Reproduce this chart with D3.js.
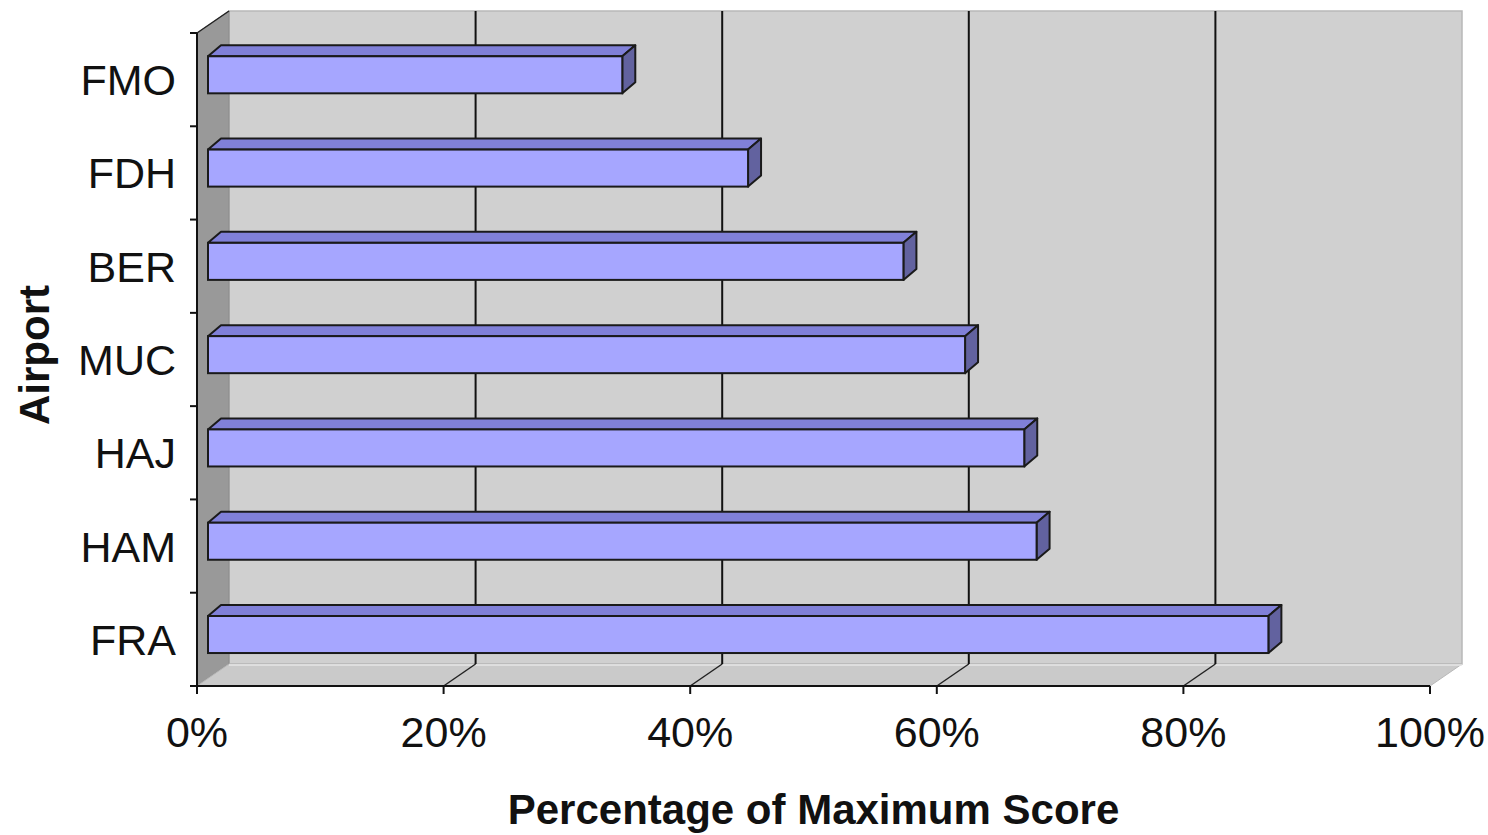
<!DOCTYPE html>
<html>
<head>
<meta charset="utf-8">
<script src="https://cdn.jsdelivr.net/npm/d3@7"></script>
<style>
  html, body { margin: 0; padding: 0; background: #ffffff; }
  svg { display: block; }
</style>
</head>
<body>
<svg id="chart" width="1488" height="835"></svg>
<script>
const categories = ["FMO", "FDH", "BER", "MUC", "HAJ", "HAM", "FRA"];
const values = [33.6, 43.8, 56.4, 61.4, 66.2, 67.2, 86.0];
const xTicks = [0, 20, 40, 60, 80, 100];
const xTickLabels = ["0%", "20%", "40%", "60%", "80%", "100%"];
const xTitle = "Percentage of Maximum Score";
const yTitle = "Airport";

(function () {
const svg = d3.select("#chart");

const x = d3.scaleLinear().domain([0, 100]).range([197, 1430]);
const y = d3.scaleBand().domain(categories).range([33, 686]).paddingInner(0).paddingOuter(0);
const bw = y.bandwidth();

// box depth offset
const DX = 32, DY = -22;
// bar placement within depth
const BX0 = 11, BY0 = -7.5;   // front face shift
const BDX = 13, BDY = -11;    // bar depth vector

const yTop = y.range()[0], yBot = y.range()[1];
const x0 = x(0), x1 = x(100);

const g = svg.append("g");

// back wall
g.append("polygon")
  .attr("points", [[x0 + DX, yTop + DY], [x1 + DX, yTop + DY], [x1 + DX, yBot + DY], [x0 + DX, yBot + DY]].join(" "))
  .attr("fill", "#d0d0d0").attr("stroke", "#b8b8b8").attr("stroke-width", 1.5);

// left side wall
g.append("polygon")
  .attr("points", [[x0, yTop], [x0 + DX, yTop + DY], [x0 + DX, yBot + DY], [x0, yBot]].join(" "))
  .attr("fill", "#999999").attr("stroke", "#8a8a8a").attr("stroke-width", 1);

// floor
g.append("polygon")
  .attr("points", [[x0, yBot], [x0 + DX, yBot + DY], [x1 + DX, yBot + DY], [x1, yBot]].join(" "))
  .attr("fill", "#cacaca").attr("stroke", "#b8b8b8").attr("stroke-width", 1);
g.append("line")
  .attr("x1", x0 + DX).attr("x2", x1 + DX).attr("y1", yBot + DY + 1).attr("y2", yBot + DY + 1)
  .attr("stroke", "#e6e6e6").attr("stroke-width", 1.5);

// left wall top edge
g.append("line")
  .attr("x1", x0).attr("y1", yTop).attr("x2", x0 + DX).attr("y2", yTop + DY)
  .attr("stroke", "#222").attr("stroke-width", 1.5);

// gridlines on back wall and floor
const grid = xTicks.filter(v => v > 0 && v < 100);
g.selectAll(".gridv").data(grid).enter().append("line")
  .attr("x1", d => x(d) + DX).attr("x2", d => x(d) + DX)
  .attr("y1", yTop + DY).attr("y2", yBot + DY)
  .attr("stroke", "#111").attr("stroke-width", 2);
g.selectAll(".gridf").data(grid).enter().append("line")
  .attr("x1", d => x(d) + DX).attr("y1", yBot + DY)
  .attr("x2", d => x(d)).attr("y2", yBot)
  .attr("stroke", "#222").attr("stroke-width", 1.5);

// bars
const data = categories.map((c, i) => ({ c, v: values[i] }));
const bars = g.selectAll(".bar").data(data).enter().append("g");
const stroke = "#1a1a1a";
bars.each(function(d) {
  const gg = d3.select(this);
  const fx0 = x(0) + BX0, fx1 = x(d.v) + BX0;
  const fy0 = y(d.c) + 0.33 * bw + BY0, fh = 0.397 * bw;
  gg.append("polygon")
    .attr("points", [[fx0, fy0], [fx0 + BDX, fy0 + BDY], [fx1 + BDX, fy0 + BDY], [fx1, fy0]].join(" "))
    .attr("fill", "#8080d8").attr("stroke", stroke).attr("stroke-width", 2).attr("stroke-linejoin", "round");
  gg.append("polygon")
    .attr("points", [[fx1, fy0], [fx1 + BDX, fy0 + BDY], [fx1 + BDX, fy0 + fh + BDY], [fx1, fy0 + fh]].join(" "))
    .attr("fill", "#62629f").attr("stroke", stroke).attr("stroke-width", 2).attr("stroke-linejoin", "round");
  gg.append("rect")
    .attr("x", fx0).attr("y", fy0).attr("width", fx1 - fx0).attr("height", fh)
    .attr("fill", "#a6a6ff").attr("stroke", stroke).attr("stroke-width", 2);
});

// axes
const axG = svg.append("g");
axG.append("line").attr("x1", x0).attr("x2", x0).attr("y1", yTop).attr("y2", yBot)
  .attr("stroke", "#111").attr("stroke-width", 2);
axG.append("line").attr("x1", x0).attr("x2", x1).attr("y1", yBot).attr("y2", yBot)
  .attr("stroke", "#111").attr("stroke-width", 2);

const yBounds = categories.map(c => y(c)).concat([yBot]);
axG.selectAll(".yt").data(yBounds).enter().append("line")
  .attr("x1", x0 - 7).attr("x2", x0).attr("y1", d => d).attr("y2", d => d)
  .attr("stroke", "#111").attr("stroke-width", 2);
axG.selectAll(".xt").data(xTicks).enter().append("line")
  .attr("x1", d => x(d)).attr("x2", d => x(d)).attr("y1", yBot).attr("y2", yBot + 8)
  .attr("stroke", "#111").attr("stroke-width", 2);

const font = "Arial, 'Liberation Sans', sans-serif";
axG.selectAll(".yl").data(categories).enter().append("text")
  .attr("x", 176).attr("y", d => y(d) + bw / 2)
  .attr("dy", "0.36em")
  .attr("text-anchor", "end")
  .attr("font-family", font).attr("font-size", 43).attr("fill", "#111")
  .text(d => d);

axG.selectAll(".xl").data(xTicks).enter().append("text")
  .attr("x", d => x(d)).attr("y", 747)
  .attr("text-anchor", "middle")
  .attr("font-family", font).attr("font-size", 43).attr("fill", "#111")
  .text((d, i) => xTickLabels[i]);

svg.append("text")
  .attr("x", (x0 + x1) / 2).attr("y", 824)
  .attr("text-anchor", "middle")
  .attr("font-family", font).attr("font-size", 42).attr("font-weight", "bold").attr("fill", "#111")
  .text(xTitle);

svg.append("text")
  .attr("transform", "translate(49,355) rotate(-90)")
  .attr("text-anchor", "middle")
  .attr("font-family", font).attr("font-size", 42).attr("font-weight", "bold").attr("fill", "#111")
  .text(yTitle);
})();
</script>
</body>
</html>
